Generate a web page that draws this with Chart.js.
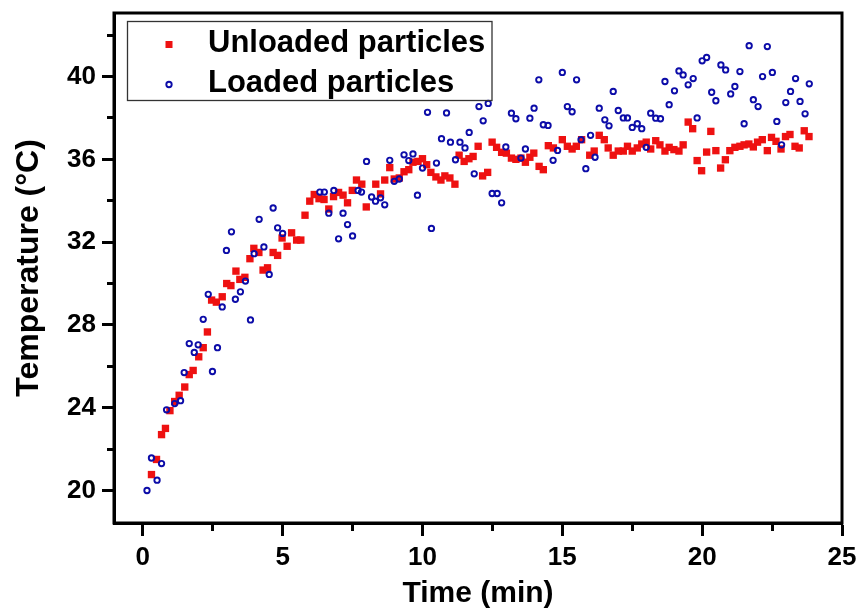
<!DOCTYPE html>
<html>
<head>
<meta charset="utf-8">
<script src="https://cdn.jsdelivr.net/npm/chart.js@4/dist/chart.umd.min.js"></script>
<style>
  html, body { margin: 0; padding: 0; background: #fff; }
  #chart { display: block; }
</style>
</head>
<body>
<canvas id="chart" width="861" height="609"></canvas>
<script>
// Unloaded particles (red squares)
const unloadedTime = [0.31, 0.49, 0.67, 0.81, 0.97, 1.14, 1.3, 1.5, 1.66, 1.8, 2.0, 2.16, 2.31, 2.46, 2.63, 2.84, 3.0, 3.15, 3.33, 3.47,
    3.65, 3.83, 3.97, 4.15, 4.3, 4.46, 4.66, 4.82, 4.98, 5.16, 5.32, 5.5, 5.65, 5.8, 5.97, 6.13, 6.3, 6.48, 6.65, 6.82,
    7.0, 7.16, 7.32, 7.49, 7.64, 7.83, 7.99, 8.33, 8.5, 8.65, 8.83, 8.99, 9.17, 9.34, 9.51, 9.66, 9.84, 10.0, 10.15, 10.3,
    10.48, 10.66, 10.8, 10.98, 11.16, 11.31, 11.49, 11.66, 11.81, 11.99, 12.15, 12.33, 12.49, 12.65, 12.83, 13.0, 13.18, 13.34, 13.52, 13.68,
    13.84, 13.98, 14.17, 14.32, 14.5, 14.68, 15.0, 15.18, 15.35, 15.5, 15.69, 15.98, 16.14, 16.32, 16.5, 16.64, 16.82, 17.0, 17.18, 17.33,
    17.5, 17.68, 17.84, 18.0, 18.16, 18.34, 18.49, 18.67, 18.82, 18.99, 19.17, 19.32, 19.5, 19.66, 19.82, 19.98, 20.16, 20.31, 20.49, 20.66,
    20.83, 20.99, 21.17, 21.35, 21.5, 21.67, 21.83, 21.98, 22.15, 22.33, 22.48, 22.64, 22.82, 22.98, 23.14, 23.32, 23.47, 23.65, 23.82];
const unloadedTemp = [20.77, 21.5, 22.7, 23.0, 23.86, 24.3, 24.6, 25.0, 25.6, 25.8, 26.46, 26.9, 27.66, 29.2, 29.1, 29.36, 30.0, 29.9, 30.6, 30.2,
    30.3, 31.2, 31.7, 31.5, 30.65, 30.76, 31.5, 31.36, 32.2, 31.8, 32.45, 32.1, 32.1, 33.3, 33.98, 34.3, 34.1, 34.06, 33.6, 34.2,
    34.4, 34.27, 33.9, 34.5, 35.0, 34.8, 33.7, 34.8, 34.33, 35.0, 35.6, 35.05, 35.1, 35.4, 35.5, 35.86, 35.9, 36.03, 35.74, 35.37,
    35.15, 35.0, 35.2, 35.1, 34.8, 36.2, 35.9, 36.03, 36.14, 36.63, 35.2, 35.37, 36.83, 36.58, 36.34, 36.3, 36.06, 36.0, 36.06, 35.86,
    36.1, 36.3, 35.66, 35.5, 36.66, 36.55, 36.95, 36.63, 36.5, 36.63, 36.95, 36.2, 36.4, 37.16, 36.95, 36.55, 36.2, 36.4, 36.4, 36.63,
    36.4, 36.55, 36.74, 36.83, 36.5, 36.9, 36.7, 36.4, 36.58, 36.47, 36.4, 36.7, 37.8, 37.48, 35.94, 35.45, 36.35, 37.35, 36.42, 35.58,
    35.98, 36.42, 36.58, 36.63, 36.7, 36.74, 36.6, 36.83, 36.95, 36.42, 37.06, 36.87, 36.5, 37.1, 37.2, 36.63, 36.55, 37.38, 37.1];

// Loaded particles (blue circles)
const loadedTime = [0.15, 0.31, 0.51, 0.67, 0.85, 1.14, 1.35, 1.48, 1.66, 1.84, 1.98, 2.16, 2.34, 2.49, 2.67, 2.84, 2.99, 3.17, 3.31, 3.49,
    3.67, 3.85, 3.98, 4.16, 4.33, 4.52, 4.66, 4.82, 5.0, 6.33, 6.49, 6.65, 6.83, 7.0, 7.16, 7.32, 7.5, 7.7, 7.82, 8.0,
    8.18, 8.32, 8.5, 8.65, 8.83, 8.99, 9.17, 9.34, 9.51, 9.66, 9.82, 10.0, 10.18, 10.32, 10.5, 10.68, 10.86, 11.0, 11.18, 11.34,
    11.52, 11.67, 11.85, 12.02, 12.17, 12.35, 12.49, 12.67, 12.83, 12.98, 13.18, 13.34, 13.52, 13.68, 13.84, 13.99, 14.16, 14.32, 14.49, 14.67,
    14.83, 15.0, 15.18, 15.35, 15.51, 15.67, 15.84, 16.01, 16.17, 16.32, 16.52, 16.67, 16.82, 17.0, 17.18, 17.33, 17.5, 17.68, 17.84, 18.0,
    18.16, 18.34, 18.51, 18.67, 18.82, 19.01, 19.17, 19.32, 19.5, 19.68, 19.82, 20.0, 20.16, 20.34, 20.49, 20.67, 20.84, 21.02, 21.17, 21.35,
    21.5, 21.68, 21.83, 22.0, 22.16, 22.33, 22.51, 22.67, 22.84, 22.99, 23.16, 23.34, 23.5, 23.68, 23.83];
const loadedTemp = [20.0, 21.57, 20.5, 21.3, 23.9, 24.2, 24.34, 25.7, 27.1, 26.67, 27.04, 28.27, 29.48, 25.75, 26.9, 28.87, 31.6, 32.5, 29.24, 29.6,
    30.12, 28.24, 31.44, 33.1, 31.77, 30.44, 33.65, 32.69, 32.42, 34.42, 34.42, 33.4, 34.5, 32.16, 33.4, 32.85, 32.3, 34.5, 34.42, 35.9,
    34.18, 33.98, 34.14, 33.8, 35.95, 34.94, 35.05, 36.22, 35.94, 36.26, 34.27, 35.58, 38.27, 32.66, 35.82, 37.0, 38.24, 36.83, 35.98, 36.83,
    36.55, 37.3, 35.3, 38.55, 37.86, 38.7, 34.35, 34.35, 33.9, 36.6, 38.23, 37.96, 36.06, 36.5, 37.99, 38.47, 39.84, 37.67, 37.64, 35.95,
    36.43, 40.2, 38.55, 38.3, 39.84, 36.95, 35.55, 37.16, 36.1, 38.47, 37.91, 37.62, 39.28, 38.36, 38.0, 38.0, 37.54, 37.72, 37.48, 36.58,
    38.23, 37.99, 37.96, 39.76, 38.64, 39.31, 40.27, 40.08, 39.6, 39.9, 38.0, 40.76, 40.92, 39.24, 38.83, 40.56, 40.32, 39.16, 39.52, 40.24,
    37.72, 41.49, 38.88, 38.55, 40.0, 41.45, 40.2, 37.83, 36.7, 38.74, 39.28, 39.9, 38.8, 38.2, 39.65];

const xMajorTicks = [0, 5, 10, 15, 20, 25];
const xMinorTicks = [2.5, 7.5, 12.5, 17.5, 22.5];
const yMajorTicks = [20, 24, 28, 32, 36, 40];
const yMinorTicks = [22, 26, 30, 34, 38, 42];

const xMin = -1.03, xMax = 25;
const yMin = 18.43, yMax = 43.07;

const RED = '#ee1111';
const BLUE = '#0c0ca8';
const FONT = '"Liberation Sans", Arial, sans-serif';

const pairs = (xs, ys) => xs.map((x, i) => ({ x, y: ys[i] }));
const fixTicks = list => scale => { scale.ticks = list.map(v => ({ value: v })); };

// frame around the plot + boxed legend inside it
const frameAndLegend = {
    id: 'frameAndLegend',
    afterDraw(chart) {
        const { ctx, chartArea: a } = chart;
        ctx.save();
        ctx.lineWidth = 3;
        ctx.strokeStyle = '#000';
        ctx.strokeRect(a.left, a.top, a.right - a.left, a.bottom - a.top);

        const bx = a.left + 13.5, by = a.top + 8.5;
        ctx.lineWidth = 1.3;
        ctx.strokeStyle = '#333';
        ctx.strokeRect(bx, by, 364.5, 79);

        ctx.font = 'bold 31px ' + FONT;
        ctx.fillStyle = '#000';
        ctx.textBaseline = 'alphabetic';
        chart.data.datasets.forEach((ds, i) => {
            const cy = by + 23 + i * 40;
            const cx = bx + 41.5;
            ctx.save();
            if (ds.pointStyle === 'rect') {
                ctx.fillStyle = ds.backgroundColor;
                ctx.fillRect(cx - 3.5, cy - 3.5, 7, 7);
            } else {
                ctx.strokeStyle = ds.borderColor;
                ctx.lineWidth = ds.borderWidth;
                ctx.beginPath();
                ctx.arc(cx, cy, ds.pointRadius, 0, Math.PI * 2);
                ctx.stroke();
            }
            ctx.restore();
            ctx.fillText(ds.label, bx + 80.5, cy + 7);
        });
        ctx.restore();
    }
};

new Chart(document.getElementById('chart'), {
    type: 'scatter',
    data: {
        datasets: [{
            label: 'Unloaded particles',
            data: pairs(unloadedTime, unloadedTemp),
            pointStyle: 'rect',
            pointRadius: 5.2,
            borderWidth: 0,
            backgroundColor: RED,
            borderColor: RED,
            order: 1,
            xAxisID: 'x',
            yAxisID: 'y'
        }, {
            label: 'Loaded particles',
            data: pairs(loadedTime, loadedTemp),
            pointStyle: 'circle',
            pointRadius: 2.7,
            borderWidth: 1.9,
            backgroundColor: 'rgba(0,0,0,0)',
            borderColor: BLUE,
            order: 0,
            xAxisID: 'x',
            yAxisID: 'y'
        }]
    },
    options: {
        responsive: false,
        animation: false,
        events: [],
        layout: { padding: { top: 13, right: 19, left: 0, bottom: 0 } },
        plugins: {
            legend: { display: false },
            tooltip: { enabled: false }
        },
        scales: {
            x: {
                type: 'linear',
                position: 'bottom',
                min: xMin,
                max: xMax,
                afterBuildTicks: fixTicks(xMajorTicks),
                afterFit: s => { s.height = 86; s.paddingLeft = 0; s.paddingRight = 0; },
                grid: { drawOnChartArea: false, tickLength: 13, tickWidth: 3, tickColor: '#000' },
                border: { display: true, width: 3, color: '#000' },
                ticks: { color: '#000', padding: 6, maxRotation: 0, font: { family: FONT, size: 26, weight: 'bold' } },
                title: {
                    display: true,
                    text: 'Time (min)',
                    color: '#000',
                    padding: { top: 0, bottom: 0 },
                    font: { family: FONT, size: 30, weight: 'bold', lineHeight: 1.05 }
                }
            },
            y: {
                type: 'linear',
                position: 'left',
                min: yMin,
                max: yMax,
                afterBuildTicks: fixTicks(yMajorTicks),
                afterFit: s => { s.width = 114; s.paddingTop = 0; s.paddingBottom = 0; },
                grid: { drawOnChartArea: false, tickLength: 12, tickWidth: 3, tickColor: '#000' },
                border: { display: true, width: 3, color: '#000' },
                ticks: { color: '#000', padding: 6, font: { family: FONT, size: 26, weight: 'bold' } },
                title: {
                    display: true,
                    text: 'Temperature (°C)',
                    color: '#000',
                    padding: { top: 11, bottom: 0 },
                    font: { family: FONT, size: 32, weight: 'bold', lineHeight: 1.15 }
                }
            },
            xMinor: {
                type: 'linear',
                axis: 'x',
                position: { y: yMin },
                min: xMin,
                max: xMax,
                afterBuildTicks: fixTicks(xMinorTicks),
                grid: { drawOnChartArea: false, tickLength: 8, tickWidth: 3, tickColor: '#000' },
                border: { display: false },
                ticks: { display: false }
            },
            yMinor: {
                type: 'linear',
                axis: 'y',
                position: { x: xMin },
                min: yMin,
                max: yMax,
                afterBuildTicks: fixTicks(yMinorTicks),
                grid: { drawOnChartArea: false, tickLength: 7, tickWidth: 3, tickColor: '#000' },
                border: { display: false },
                ticks: { display: false }
            }
        }
    },
    plugins: [frameAndLegend]
});
</script>
</body>
</html>
